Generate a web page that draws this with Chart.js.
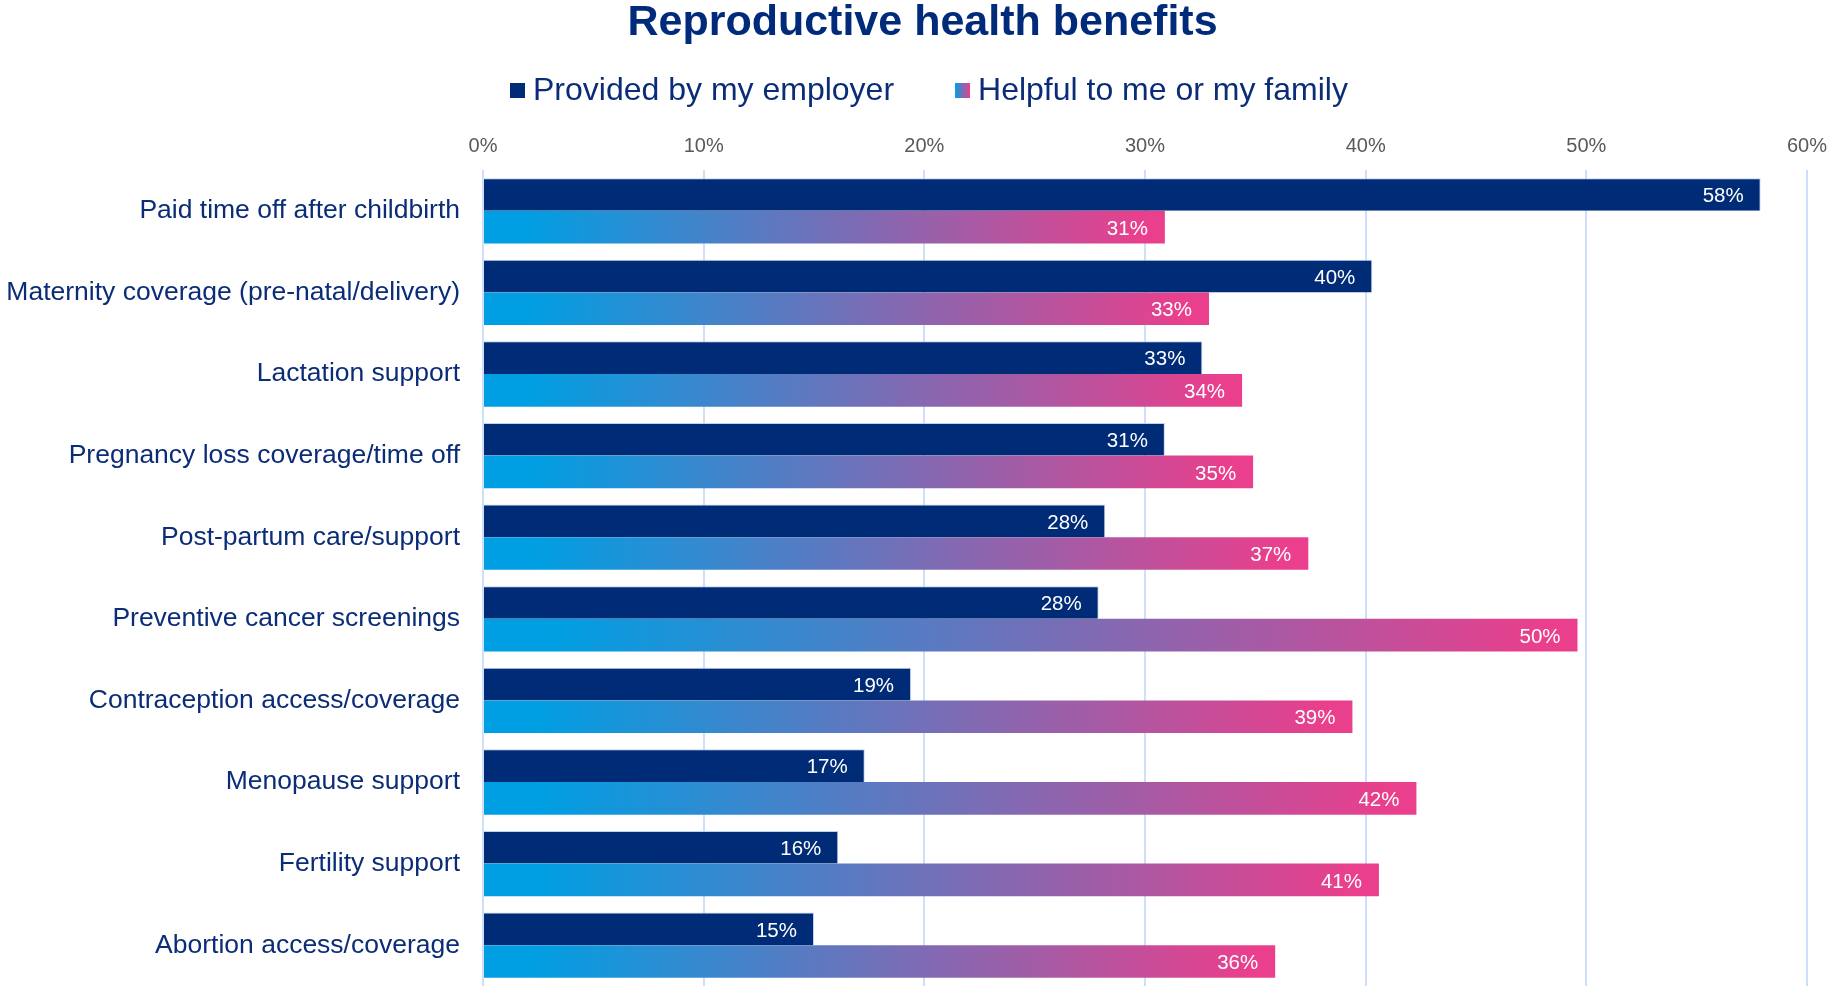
<!DOCTYPE html>
<html><head><meta charset="utf-8">
<script src="https://cdn.jsdelivr.net/npm/chart.js@4/dist/chart.umd.min.js"></script>
<style>html,body{margin:0;padding:0;background:#fff;overflow:hidden}#wrap{width:1829px;height:986px;position:relative}</style>
</head><body><div id="wrap"><canvas id="c"></canvas></div>
<script>
const categories = [
  'Paid time off after childbirth',
  'Maternity coverage (pre-natal/delivery)',
  'Lactation support',
  'Pregnancy loss coverage/time off',
  'Post-partum care/support',
  'Preventive cancer screenings',
  'Contraception access/coverage',
  'Menopause support',
  'Fertility support',
  'Abortion access/coverage'
];
const employerValues = [57.9, 40.3, 32.6, 30.9, 28.2, 27.9, 19.4, 17.3, 16.1, 15.0];
const helpfulValues  = [30.9, 32.9, 34.4, 34.9, 37.4, 49.6, 39.4, 42.3, 40.6, 35.9];
const seriesNames = ['Provided by my employer', 'Helpful to me or my family'];
const titleText = 'Reproductive health benefits';

const FONT = "'Liberation Sans', Arial, Helvetica, sans-serif";
const NAVY = '#002b76';
const TEXTNAVY = '#0b2d78';
const CYAN = '#009fe3';
const PINK = '#ea3f8c';

function helpfulGradient(ctx) {
  const chart = ctx.chart;
  if (!chart.chartArea || !chart.scales.x) return CYAN;
  const xs = chart.scales.x;
  const x0 = xs.getPixelForValue(0);
  const x1 = xs.getPixelForValue(ctx.raw);
  if (!(x1 > x0)) return CYAN;
  const g = chart.ctx.createLinearGradient(x0, 0, x1, 0);
  g.addColorStop(0, CYAN);
  g.addColorStop(0.06, CYAN);
  g.addColorStop(0.97, PINK);
  g.addColorStop(1, PINK);
  return g;
}

const valueLabels = {
  id: 'valueLabels',
  afterDatasetsDraw(chart) {
    const c = chart.ctx;
    c.save();
    c.font = '20.5px ' + FONT;
    c.fillStyle = '#ffffff';
    c.textAlign = 'right';
    c.textBaseline = 'middle';
    chart.data.datasets.forEach((ds, i) => {
      const meta = chart.getDatasetMeta(i);
      meta.data.forEach((bar, j) => {
        c.fillText(Math.round(ds.data[j]) + '%', bar.x - 17, bar.y + 2);
      });
    });
    c.restore();
  }
};

const manualLegend = {
  id: 'manualLegend',
  afterDraw(chart) {
    const c = chart.ctx;
    c.save();
    c.font = '32px ' + FONT;
    c.textBaseline = 'middle';
    c.textAlign = 'left';
    const cy = 90;
    let x = 510;
    chart.data.datasets.forEach((ds, i) => {
      if (i === 0) {
        c.fillStyle = NAVY;
      } else {
        const g = c.createLinearGradient(x, 0, x + 15, 0);
        g.addColorStop(0, CYAN);
        g.addColorStop(1, PINK);
        c.fillStyle = g;
      }
      c.fillRect(x, cy - 7, 15, 15);
      c.fillStyle = TEXTNAVY;
      c.fillText(ds.label, x + 23, cy + 1);
      x += 23 + c.measureText(ds.label).width + 61;
    });
    c.restore();
  }
};

const titleShift = {
  id: 'titleShift',
  afterLayout(chart) {
    if (chart.titleBlock) { chart.titleBlock.left += 38; }
  }
};

new Chart(document.getElementById('c'), {
  type: 'bar',
  data: {
    labels: categories,
    datasets: [
      {
        label: seriesNames[0],
        data: employerValues,
        backgroundColor: NAVY,
        borderColor: 'rgba(185,205,240,0.9)',
        borderWidth: {top: 1, right: 1, bottom: 0, left: 0},
        borderSkipped: false,
        categoryPercentage: 0.8,
        barPercentage: 1.0
      },
      {
        label: seriesNames[1],
        data: helpfulValues,
        backgroundColor: helpfulGradient,
        borderWidth: 0,
        categoryPercentage: 0.8,
        barPercentage: 1.0
      }
    ]
  },
  options: {
    indexAxis: 'y',
    responsive: true,
    maintainAspectRatio: false,
    animation: false,
    devicePixelRatio: 1,
    layout: {padding: {left: 0, right: 22, top: 0, bottom: 0}},
    scales: {
      x: {
        position: 'top',
        min: 0, max: 60,
        ticks: {
          stepSize: 10,
          callback: v => v + '%',
          font: {family: FONT, size: 20},
          color: '#595959',
          padding: 12,
          maxRotation: 0
        },
        grid: {color: '#cddff9', lineWidth: 2, drawTicks: false},
        border: {display: false},
        afterFit: s => { s.height = 36; s.paddingLeft = 0; s.paddingRight = 0; }
      },
      y: {
        grid: {display: false, drawTicks: false},
        border: {display: false},
        ticks: {
          font: {family: FONT, size: 26.5},
          color: TEXTNAVY,
          padding: 23,
          autoSkip: false
        },
        afterFit: s => { s.width = 483; s.paddingTop = 0; s.paddingBottom = 0; }
      }
    },
    plugins: {
      legend: {display: false},
      tooltip: {enabled: false},
      title: {
        display: true,
        text: titleText,
        color: '#002b7a',
        font: {family: FONT, size: 43, weight: 'bold', lineHeight: 1.0},
        padding: {top: 2, bottom: 89}
      }
    }
  },
  plugins: [valueLabels, manualLegend, titleShift]
});
</script>
</body></html>
